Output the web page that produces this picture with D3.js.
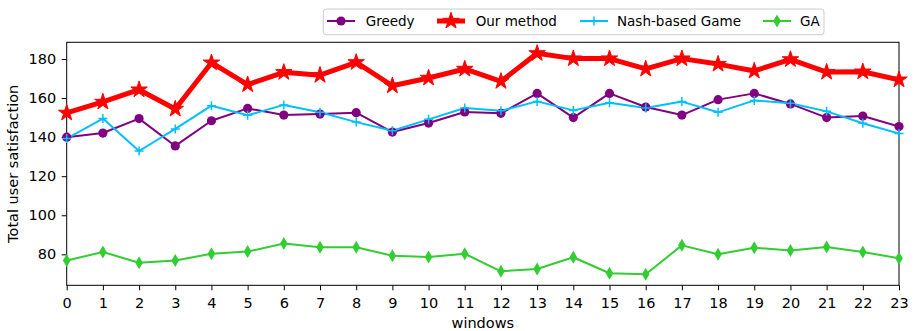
<!DOCTYPE html>
<html>
<head>
<meta charset="utf-8">
<script src="https://cdn.jsdelivr.net/npm/d3@7"></script>
<style>
  html, body { margin: 0; padding: 0; background: #fff; }
  svg { display: block; font-family: "DejaVu Sans", sans-serif; }
</style>
</head>
<body>
<svg id="chart" width="916" height="331"></svg>
<script>
const windows = d3.range(0, 24);
const greedy = [140, 142.1, 149.5, 135.5, 148.4, 154.7, 151.3, 151.8, 152.5, 142.6, 147.2, 152.9, 152.2, 162.4, 150, 162.4, 155.4, 151.3, 159.2, 162.4, 157, 150, 150.8, 145.4];
const ourMethod = [152.4, 158, 164.3, 154.4, 178.1, 166.9, 173.2, 171.7, 178.3, 166.3, 170.3, 174.9, 168.6, 182.9, 180.2, 180.2, 174.9, 180.2, 177.4, 173.9, 179.8, 173.3, 173.5, 169.4];
const nash = [139.3, 149.5, 132.9, 144.2, 156.1, 151.2, 156.5, 152.7, 147.7, 143.3, 149.1, 154.9, 153.5, 158.3, 153.7, 157.6, 154.9, 158.2, 152.7, 158.8, 157.3, 153.2, 147.1, 141.8];
const ga = [76.8, 81.2, 75.7, 76.8, 80.3, 81.4, 85.5, 83.6, 83.6, 79.3, 78.6, 80.3, 71.3, 72.5, 78.5, 70.3, 69.8, 84.6, 80, 83.4, 82, 83.8, 81.2, 78];
const yTicks = [80, 100, 120, 140, 160, 180];
const seriesNames = ["Greedy", "Our method", "Nash-based Game", "GA"];
const seriesColors = ["#800080", "#ff0000", "#00bfff", "#32cd32"];

(function () {
const svg = d3.select("#chart");
const pL = 66.7, pR = 899, pT = 42.3, pB = 285.3;
const axisFont = 14.5;

const all = greedy.concat(ourMethod, nash, ga);
const ymin = d3.min(all), ymax = d3.max(all);
const pad = (ymax - ymin) * 0.05;

const x = d3.scaleLinear().domain([0, 23]).range([pL, pR]);
const y = d3.scaleLinear().domain([ymin - pad, ymax + pad]).range([pB, pT]);

svg.append("defs").append("clipPath").attr("id", "clip")
  .append("rect").attr("x", pL).attr("y", pT).attr("width", pR - pL).attr("height", pB - pT);

const xAxis = svg.append("g").attr("transform", `translate(0,${pB})`)
  .call(d3.axisBottom(x).tickValues(windows).tickFormat(d3.format("d")).tickSize(5).tickPadding(7.5));
const yAxis = svg.append("g").attr("transform", `translate(${pL},0)`)
  .call(d3.axisLeft(y).tickValues(yTicks).tickSize(5).tickPadding(5.5));
[xAxis, yAxis].forEach(g => {
  g.select(".domain").remove();
  g.selectAll("text").attr("font-size", axisFont).attr("fill", "#000").attr("font-family", "DejaVu Sans, sans-serif");
  g.selectAll("line").attr("stroke", "#000").attr("stroke-width", 1);
});

svg.append("rect").attr("x", pL).attr("y", pT).attr("width", pR - pL).attr("height", pB - pT)
  .attr("fill", "none").attr("stroke", "#000").attr("stroke-width", 1);

const data = [greedy, ourMethod, nash, ga];
const widths = [2, 5, 2, 2];
const line = d3.line().x((d, i) => x(i)).y(d => y(d));

const plot = svg.append("g").attr("clip-path", "url(#clip)");

function drawMarker(g, k, px, py) {
  const c = seriesColors[k];
  if (k === 0) {
    g.append("circle").attr("cx", px).attr("cy", py).attr("r", 4.6).attr("fill", c);
  } else if (k === 1) {
    g.append("path").attr("d", d3.symbol().type(d3.symbolStar).size(84)())
      .attr("transform", `translate(${px},${py})`).attr("fill", c).attr("stroke", c).attr("stroke-width", 1);
  } else if (k === 2) {
    g.append("path").attr("d", `M${px-4.5},${py}H${px+4.5}M${px},${py-4.5}V${py+4.5}`)
      .attr("stroke", c).attr("stroke-width", 1.5).attr("fill", "none");
  } else {
    g.append("path").attr("d", `M${px},${py-6.5}L${px+3.8},${py}L${px},${py+6.5}L${px-3.8},${py}Z`)
      .attr("fill", c);
  }
}

data.forEach((arr, k) => {
  plot.append("path").datum(arr).attr("d", line).attr("fill", "none")
    .attr("stroke", seriesColors[k]).attr("stroke-width", widths[k]).attr("stroke-linejoin", "round");
  const mg = svg.append("g");
  arr.forEach((v, i) => drawMarker(mg, k, x(i), y(v)));
});

svg.append("text").attr("x", (pL + pR) / 2).attr("y", 328).attr("text-anchor", "middle")
  .attr("font-size", axisFont).text("windows");
svg.append("text").attr("transform", `translate(17.5,${(pT + pB) / 2}) rotate(-90)`)
  .attr("text-anchor", "middle").attr("font-size", axisFont).text("Total user satisfaction");

const lg = svg.append("g");
lg.append("rect").attr("x", 323.3).attr("y", 9).attr("width", 500.7).attr("height", 25.7)
  .attr("rx", 3).attr("fill", "#fff").attr("fill-opacity", 0.8).attr("stroke", "#cccccc").attr("stroke-width", 1);
const lineStarts = [327, 437, 580, 763];
const textStarts = [365.7, 475.7, 617, 800];
const ly = 21;
seriesNames.forEach((name, k) => {
  lg.append("line").attr("x1", lineStarts[k]).attr("x2", lineStarts[k] + 28).attr("y1", ly).attr("y2", ly)
    .attr("stroke", seriesColors[k]).attr("stroke-width", widths[k]);
  drawMarker(lg, k, lineStarts[k] + 14, ly);
  lg.append("text").attr("x", textStarts[k]).attr("y", ly).attr("dy", "0.35em")
    .attr("font-size", 13.5).text(name);
});
})();
</script>
</body>
</html>
